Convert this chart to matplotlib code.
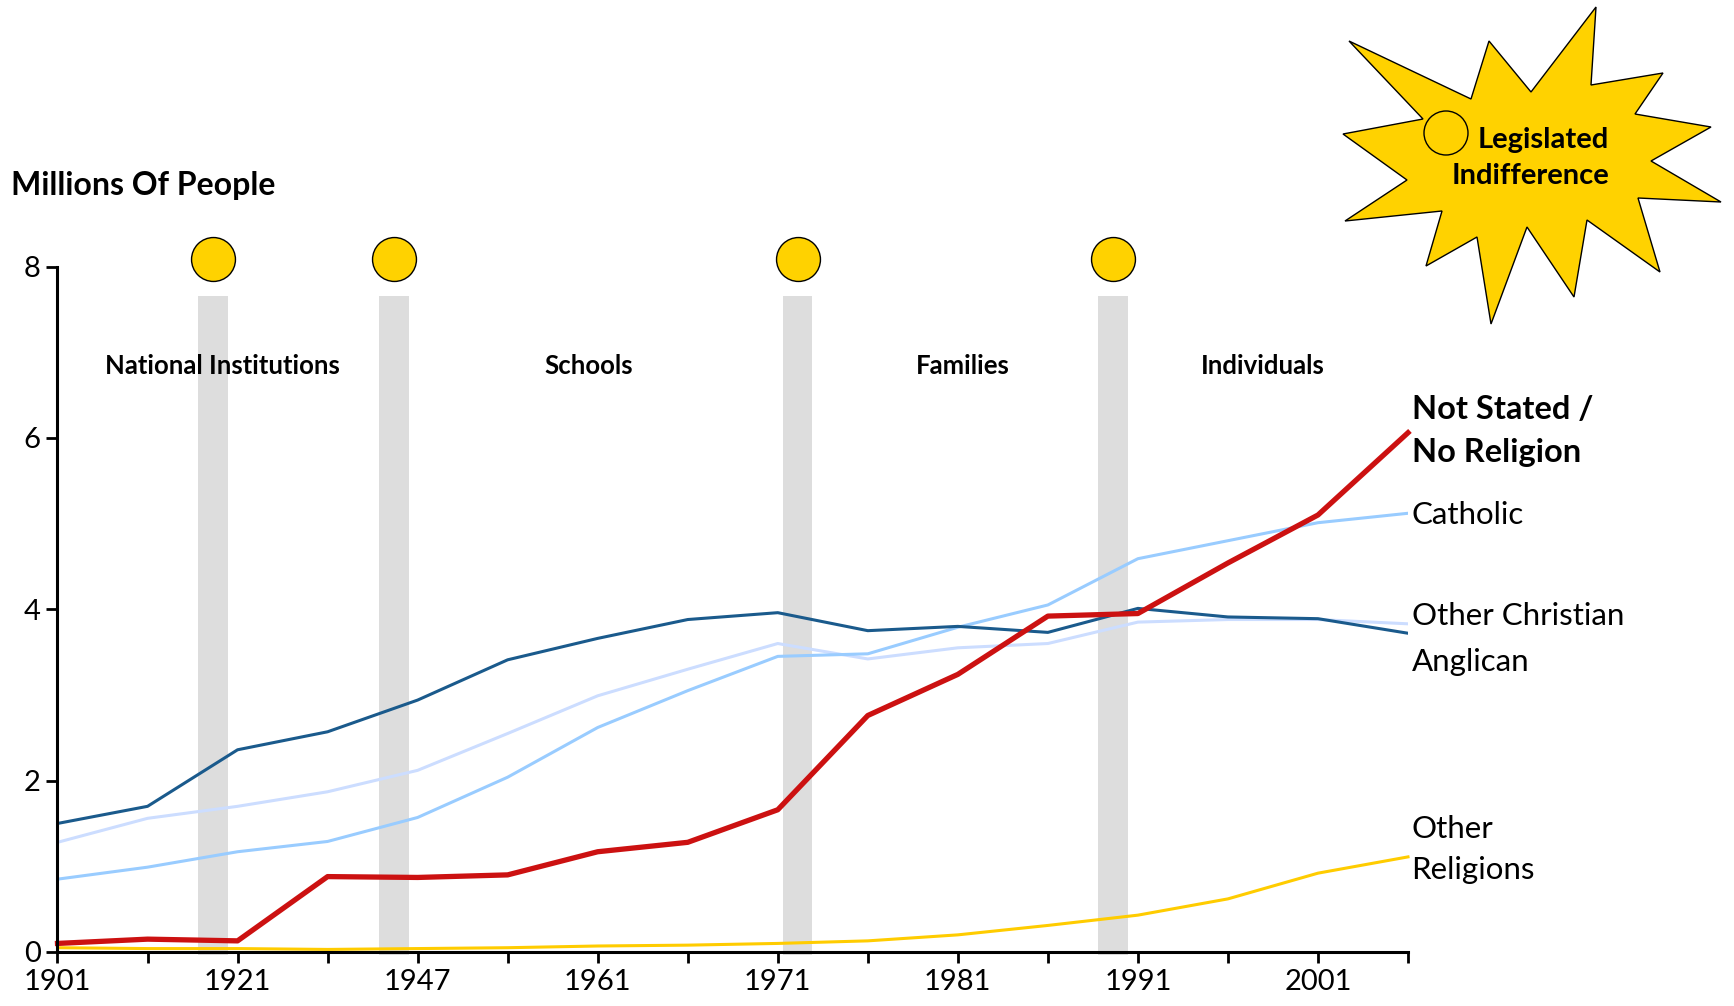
import matplotlib.pyplot as plt
from matplotlib.patches import Polygon, Ellipse

plt.rcParams['font.family'] = ['Lato', 'DejaVu Sans']

# census years (categorical positions)
years = ['1901', '1911', '1921', '1933', '1947', '1954', '1961', '1966',
         '1971', '1976', '1981', '1986', '1991', '1996', '2001', '2006']

anglican = [1.50, 1.70, 2.36, 2.57, 2.94, 3.41, 3.66, 3.88,
            3.96, 3.75, 3.80, 3.73, 4.01, 3.91, 3.89, 3.72]
catholic = [0.85, 0.99, 1.17, 1.29, 1.57, 2.04, 2.62, 3.05,
            3.45, 3.48, 3.79, 4.05, 4.59, 4.80, 5.01, 5.12]
other_christian = [1.28, 1.56, 1.70, 1.87, 2.12, 2.55, 2.99, 3.30,
                   3.60, 3.42, 3.55, 3.60, 3.85, 3.88, 3.88, 3.83]
not_stated = [0.10, 0.15, 0.13, 0.88, 0.87, 0.90, 1.17, 1.28,
              1.66, 2.76, 3.24, 3.92, 3.95, 4.54, 5.10, 6.06]
other_religions = [0.05, 0.04, 0.04, 0.03, 0.04, 0.05, 0.07, 0.08,
                   0.10, 0.13, 0.20, 0.31, 0.43, 0.62, 0.92, 1.11]

# legislation markers (position between census points) and era labels
law_pos = [1.73, 3.74, 8.22, 11.72]
eras = ['National Institutions', 'Schools', 'Families', 'Individuals']
era_pos = [1.83, 5.90, 10.05, 13.39]

# starburst outline (figure pixels)
star_pts = [(1349, 41), (1471, 99), (1489, 41), (1531, 92), (1596, 7), (1591, 85),
            (1663, 73), (1635, 114), (1711, 127), (1651, 161), (1721, 202), (1638, 198),
            (1660, 272), (1587, 220), (1574, 297), (1527, 227), (1491, 324), (1477, 237),
            (1426, 266), (1442, 211), (1345, 221), (1407, 180), (1343, 134), (1423, 119)]

W, H = 1734, 1006
fig = plt.figure(figsize=(W / 100, H / 100), dpi=100)
ax = fig.add_axes([57.5 / W, 1 - 952 / H, (1408 - 57.5) / W, (952 - 266.5) / H])

x = list(range(len(years)))
yellow = '#FFD200'

for p in law_pos:
    ax.bar(p, 7.68, bottom=-0.03, width=0.33, color='#DDDDDD', zorder=1, clip_on=False)
ax.scatter(law_pos, [8.09] * len(law_pos), s=1000, color=yellow, edgecolor='black',
           linewidth=1, zorder=5, clip_on=False)

ax.plot(x, other_religions, color='#FFCC00', lw=2.2, zorder=3, clip_on=False)
ax.plot(x, other_christian, color='#CCDDFF', lw=2.2, zorder=3)
ax.plot(x, catholic, color='#99CCFF', lw=2.2, zorder=3)
ax.plot(x, anglican, color='#1A5A8C', lw=2.2, zorder=3)
ax.plot(x, not_stated, color='#CC1111', lw=3.8, zorder=4, clip_on=False)

for lab, p in zip(eras, era_pos):
    ax.text(p, 6.84, lab, ha='center', va='center', fontsize=18.5, fontweight='bold')

# series labels on the right
lx = 15.04
ax.text(lx, 6.08, 'Not Stated /\nNo Religion', fontsize=23.5, fontweight='bold',
        va='center', ha='left', linespacing=1.55)
ax.text(lx, 5.10, 'Catholic', fontsize=22.5, va='center', ha='left')
ax.text(lx, 3.92, 'Other Christian', fontsize=22.5, va='center', ha='left')
ax.text(lx, 3.38, 'Anglican', fontsize=22.5, va='center', ha='left')
ax.text(lx, 1.20, 'Other\nReligions', fontsize=22.5, va='center', ha='left', linespacing=1.55)

ax.set_xlim(0, 15)
ax.set_ylim(0, 8)
ax.set_xticks(x)
ax.set_xticklabels([y if i % 2 == 0 else '' for i, y in enumerate(years)])
ax.set_yticks([0, 2, 4, 6, 8])
ax.tick_params(axis='both', direction='out', length=8, width=2, labelsize=21, pad=4)
ax.spines['top'].set_visible(False)
ax.spines['right'].set_visible(False)
for s in ['left', 'bottom']:
    ax.spines[s].set_linewidth(2.2)
    ax.spines[s].set_zorder(6)

fig.text(11 / W, 1 - 185 / H, 'Millions Of People', fontsize=23, fontweight='bold',
         ha='left', va='center')

# starburst callout
star = Polygon([(px / W, 1 - py / H) for px, py in star_pts], closed=True,
               transform=fig.transFigure, facecolor=yellow, edgecolor='black', lw=1)
fig.patches.append(star)
ring = Ellipse((1446 / W, 1 - 133 / H), 44 / W, 44 / H, transform=fig.transFigure,
               facecolor='none', edgecolor='black', lw=1)
fig.patches.append(ring)
fig.text(1530 / W, 1 - 158 / H, 'Legislated\nIndifference', fontsize=21, fontweight='bold',
         ha='center', va='center', multialignment='right', linespacing=1.5)

fig.savefig('out.png', dpi=100)
